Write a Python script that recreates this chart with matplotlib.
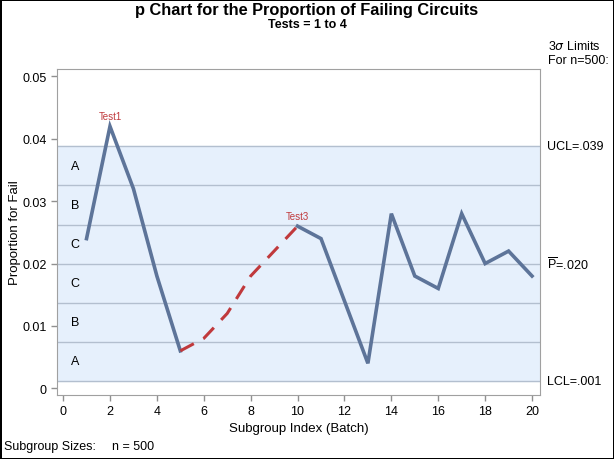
import matplotlib
matplotlib.use("Agg")
import matplotlib.pyplot as plt
import numpy as np

plt.rcParams['font.family'] = ['Liberation Sans', 'DejaVu Sans']
plt.rcParams['mathtext.fontset'] = 'custom'
plt.rcParams['mathtext.rm'] = 'Liberation Sans'

# subgroup data: batch index and proportion failing (n = 500)
batch = np.arange(1, 21)
prop = [0.024, 0.042, 0.032, 0.018, 0.006, 0.008, 0.012, 0.018, 0.022, 0.026,
        0.024, 0.014, 0.004, 0.028, 0.018, 0.016, 0.028, 0.020, 0.022, 0.018]
n = 500
pbar = 0.020

# test flags: (batch of label, text) and the run flagged by test 3
flags = [(2, "Test1"), (10, "Test3")]
test3_run = (5, 10)

zone_letters = ["A", "B", "C", "C", "B", "A"]

sigma = np.sqrt(pbar * (1 - pbar) / n)
ucl = pbar + 3 * sigma
lcl = max(pbar - 3 * sigma, 0)

line_col = "#5d7499"
red = "#c0393c"
band_col = "#e6f0fc"
zone_col = "#b3bfcf"
fs = 9

fig = plt.figure(figsize=(6.14, 4.6), dpi=100)
fig.patch.set_edgecolor("black")
fig.patch.set_linewidth(2)
ax = fig.add_axes([57 / 614, 1 - 395.5 / 460, (540 - 57) / 614, (395.5 - 70) / 460])

ax.axhspan(lcl, ucl, color=band_col, zorder=0)
for k in range(-3, 4):
    ax.axhline(pbar + k * sigma, color=zone_col, lw=1, zorder=1)

for i, letter in enumerate(zone_letters):
    yc = pbar + (2.5 - i) * sigma
    ax.text(0.5, yc, letter, ha="center", va="center", fontsize=fs)

x = np.array(batch)
y = np.array(prop)
a, b = test3_run
# solid segments outside the flagged run
ax.plot(x[:a], y[:a], color=line_col, lw=2.6, solid_joinstyle="miter", zorder=3)
ax.plot(x[b - 1:], y[b - 1:], color=line_col, lw=2.6, solid_joinstyle="miter", zorder=3)
ax.plot(x[a - 1:b], y[a - 1:b], color=red, lw=2.2, ls=(0, (5, 3.5)), zorder=3)

for bi, txt in flags:
    ax.annotate(txt, (bi, prop[bi - 1]), xytext=(0, 4), textcoords="offset points",
                ha="center", va="bottom", color=red, fontsize=7)

ax.set_xlim(-0.26, 20.34)
ax.set_ylim(-0.001, 0.0512)
ax.set_xticks(np.arange(0, 21, 2))
ax.set_yticks([0, 0.01, 0.02, 0.03, 0.04, 0.05])
ax.set_yticklabels(["0", "0.01", "0.02", "0.03", "0.04", "0.05"])
ax.tick_params(labelsize=fs, color="#909090", length=4, width=1)
for s in ax.spines.values():
    s.set_color("#a0a0a0")
ax.set_xlabel("Subgroup Index (Batch)", fontsize=9.5, labelpad=4)
ax.set_ylabel("Proportion for Fail", fontsize=9.5, labelpad=1)

fig.text(0.5, 1 - 10 / 460, "p Chart for the Proportion of Failing Circuits",
         ha="center", va="center", fontsize=11.8, fontweight="bold")
fig.text(0.5, 1 - 25.5 / 460, "Tests = 1 to 4", ha="center", va="center",
         fontsize=9, fontweight="bold")

kw = dict(transform=ax.get_yaxis_transform(), ha="left", va="center",
          fontsize=fs, clip_on=False)
ax.text(1.015, ucl, "UCL=.039", **kw)
ax.text(1.015, pbar, r"$\overline{\mathrm{P}}$=.020", **kw)
ax.text(1.015, lcl, "LCL=.001", **kw)
fig.text(548 / 614, 1 - 47 / 460, r"3$\sigma$ Limits", ha="left", va="center", fontsize=fs)
fig.text(548 / 614, 1 - 61 / 460, "For n=500:", ha="left", va="center", fontsize=fs)

fig.text(4 / 614, 1 - 447 / 460, "Subgroup Sizes:", ha="left", va="center", fontsize=fs)
fig.text(112 / 614, 1 - 447 / 460, "n = 500", ha="left", va="center", fontsize=fs)

fig.savefig("out.png", dpi=100, edgecolor=fig.get_edgecolor())
